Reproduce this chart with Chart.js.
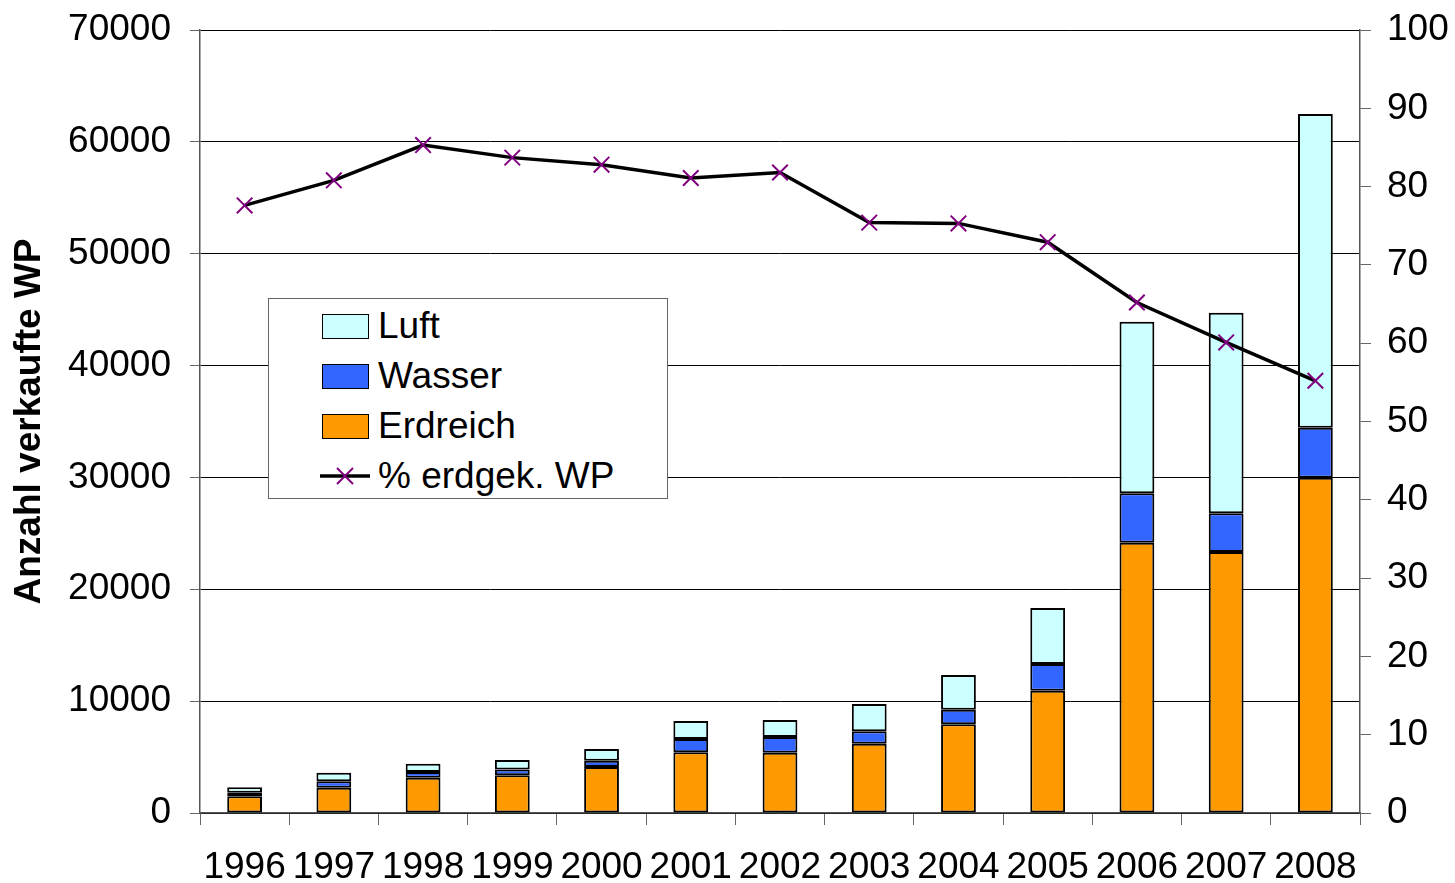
<!DOCTYPE html>
<html>
<head>
<meta charset="utf-8">
<script src="https://cdn.jsdelivr.net/npm/chart.js@4"></script>
<style>
  body{margin:0;background:#fff;font-family:"Liberation Sans",Arial,sans-serif;}
  #wrap{position:relative;width:1455px;height:883px;}
  #legend{position:absolute;left:268px;top:298px;width:398px;height:199px;border:1px solid #666;background:#fff;}
  .sw{position:absolute;left:53px;width:45px;height:23px;border:1px solid #000;}
  .lbl{position:absolute;left:109px;font-size:37px;line-height:40px;color:#000;white-space:nowrap;}
</style>
</head>
<body>
<div id="wrap">
  <canvas id="c" width="1455" height="883"></canvas>
  <div id="legend"></div>
</div>
<script>
const years    = ['1996','1997','1998','1999','2000','2001','2002','2003','2004','2005','2006','2007','2008'];
const erdreich = [1500, 2260, 3160, 3370, 4110, 5430, 5390, 6200, 7930, 10940, 24170, 23330, 29980];
const wasser   = [ 320,  570,  500,  530,  570, 1190, 1400, 1100, 1310,  2380,  4410,  3460,  4470];
const luft     = [ 480,  770,  750,  840, 1040, 1600, 1520, 2450, 3100,  5000, 15340, 17930, 28040];
const prozent  = [77.6, 80.8, 85.3, 83.7, 82.8, 81.1, 81.8, 75.4, 75.3, 72.9, 65.2, 60.1, 55.2];
const leftTicks  = [0,10000,20000,30000,40000,50000,60000,70000];
const rightTicks = [0,10,20,30,40,50,60,70,80,90,100];

const FONT = {family:'"Liberation Sans", Arial, sans-serif', size:37};

const barCommon = {borderColor:'#000', borderWidth:2, borderSkipped:false, barPercentage:0.39, categoryPercentage:1, stack:'wp', yAxisID:'y', order:2};

// scales should not ask for extra room around the plot, the layout padding decides
const noPad = s=>{s.paddingTop=0;s.paddingBottom=0;s.paddingLeft=0;s.paddingRight=0;};

new Chart(document.getElementById('c'), {
  type:'bar',
  data:{
    labels: years,
    datasets:[
      {type:'line', label:'% erdgek. WP', data:prozent, yAxisID:'y1', borderColor:'#000', borderWidth:3.5,
       tension:0, pointStyle:'crossRot', pointRadius:11, pointBorderColor:'#800080', pointBorderWidth:2,
       pointBackgroundColor:'#800080', order:0},
      {...barCommon, label:'Erdreich', data:erdreich, backgroundColor:'#FF9900'},
      {...barCommon, label:'Wasser', data:wasser, backgroundColor:'#3366FF'},
      {...barCommon, label:'Luft', data:luft, backgroundColor:'#CCFFFF'}
    ]
  },
  options:{
    responsive:false,
    animation:false,
    layout:{padding:{top:30,left:0,right:0,bottom:0}},
    plugins:{legend:{display:false}, tooltip:{enabled:false}},
    scales:{
      x:{
        stacked:true,
        grid:{display:true, offset:true, drawOnChartArea:false, tickLength:12, color:'#666', lineWidth:1},
        border:{display:true, color:'#555', width:1.5},
        ticks:{font:FONT, color:'#000', padding:21, maxRotation:0, autoSkip:false},
        afterFit:s=>{s.height=70;noPad(s);}
      },
      y:{
        stacked:true, position:'left', min:0, max:70000,
        afterBuildTicks:s=>{s.ticks=leftTicks.map(v=>({value:v}));},
        grid:{color:'#000', lineWidth:1, tickLength:10, tickColor:'#666'},
        border:{display:true, color:'#555', width:1.5},
        ticks:{font:FONT, color:'#000', padding:19, callback:v=>String(v)},
        title:{display:true, text:'Anzahl verkaufte WP', color:'#000',
               font:{family:FONT.family, size:37, weight:'bold', lineHeight:1.2}, padding:{top:8,bottom:0}},
        afterFit:s=>{s.width=200;noPad(s);}
      },
      y1:{
        position:'right', min:0, max:100,
        afterBuildTicks:s=>{s.ticks=rightTicks.map(v=>({value:v}));},
        grid:{drawOnChartArea:false, tickLength:11, color:'#666'},
        border:{display:true, color:'#555', width:1.5},
        ticks:{font:FONT, color:'#000', padding:16, callback:v=>String(v)},
        afterFit:s=>{s.width=95;noPad(s);}
      }
    }
  }
});

// legend box drawn as HTML, placed inside the plot like the original
const legendItems = [
  {text:'Luft', color:'#CCFFFF'},
  {text:'Wasser', color:'#3366FF'},
  {text:'Erdreich', color:'#FF9900'},
  {text:'% erdgek. WP', line:true}
];
const lg = document.getElementById('legend');
legendItems.forEach((it,i)=>{
  const cy = 27 + i*50;
  let sw;
  if(it.line){
    sw = `<svg style="position:absolute;left:51px;top:${cy-10}px" width="50" height="20">
      <line x1="0" y1="10" x2="50" y2="10" stroke="#000" stroke-width="3.5"/>
      <path d="M17 2 L33 18 M33 2 L17 18" stroke="#800080" stroke-width="2"/></svg>`;
  } else {
    sw = `<div class="sw" style="top:${cy-12}px;background:${it.color}"></div>`;
  }
  lg.insertAdjacentHTML('beforeend', sw + `<div class="lbl" style="top:${cy-20}px">${it.text}</div>`);
});
</script>
</body>
</html>
